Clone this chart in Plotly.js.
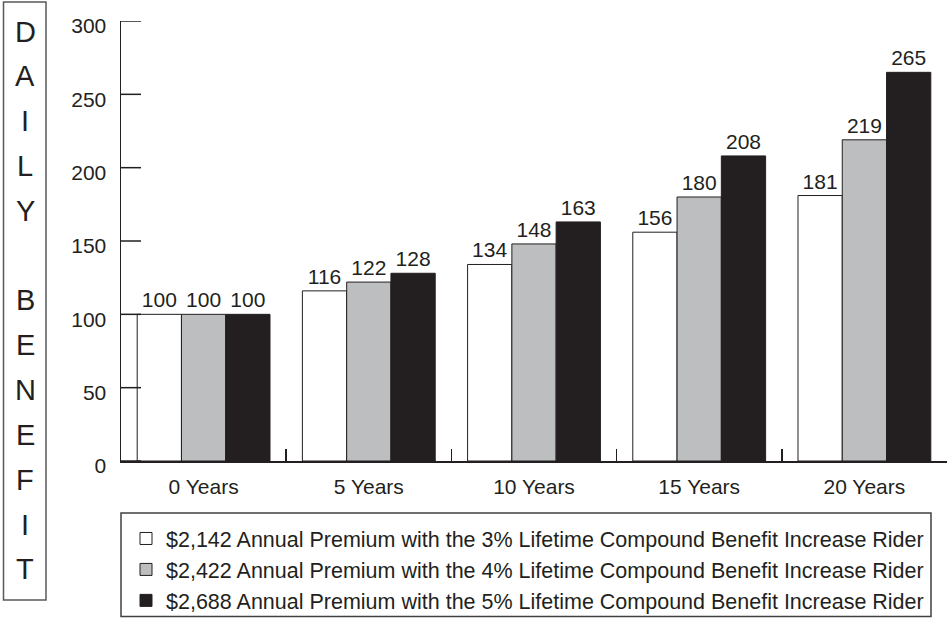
<!DOCTYPE html>
<html>
<head>
<meta charset="utf-8">
<script src="https://cdn.plot.ly/plotly-3.0.1.min.js"></script>
<style>html,body{margin:0;padding:0;background:#fff;}#chart{width:951px;height:626px;}</style>
</head>
<body>
<div id="chart"></div>
<script>
var categories = ['0 Years', '5 Years', '10 Years', '15 Years', '20 Years'];
var rider3 = [100, 116, 134, 156, 181];
var rider4 = [100, 122, 148, 180, 219];
var rider5 = [100, 128, 163, 208, 265];
var seriesNames = [
  '$2,142 Annual Premium with the 3% Lifetime Compound Benefit Increase Rider',
  '$2,422 Annual Premium with the 4% Lifetime Compound Benefit Increase Rider',
  '$2,688 Annual Premium with the 5% Lifetime Compound Benefit Increase Rider'
];
var yTicks = [0, 50, 100, 150, 200, 250, 300];
var sideLetters = ['D', 'A', 'I', 'L', 'Y', '', 'B', 'E', 'N', 'E', 'F', 'I', 'T'];

var FONT = '"Liberation Sans", Arial, Helvetica, sans-serif';
var INK = '#231f20';
var colors = ['#ffffff', '#bcbec0', '#231f20'];
var seriesVals = [rider3, rider4, rider5];

// plot area geometry (px)
var L = 121, R = 4, T = 21, B = 165, W = 951, H = 626;
var PW = W - L - R, PH = H - T - B;
function px2x(px) { return (px - L) / PW; }
function py2y(py) { return (H - B - py) / PH; }

var traces = seriesVals.map(function (vals, i) {
  return {
    type: 'bar',
    x: categories,
    y: vals,
    name: seriesNames[i],
    marker: { color: colors[i], line: { color: INK, width: 1 } },
    text: vals.map(String),
    textposition: 'outside',
    textfont: { family: FONT, size: 21, color: INK },
    cliponaxis: false,
    hoverinfo: 'skip'
  };
});

var annotations = sideLetters.map(function (ch, i) {
  return {
    xref: 'paper', yref: 'paper',
    x: px2x(25), y: py2y(31.7 + i * 44.8),
    xanchor: 'center', yanchor: 'middle',
    text: ch, showarrow: false,
    font: { family: FONT, size: 29, color: INK }
  };
});

var shapes = [
  { type: 'rect', xref: 'paper', yref: 'paper',
    x0: px2x(3.5), x1: px2x(46), y0: py2y(2), y1: py2y(600),
    line: { color: '#58595b', width: 1.5 }, fillcolor: 'rgba(0,0,0,0)' },
  { type: 'rect', xref: 'paper', yref: 'paper',
    x0: px2x(121), x1: px2x(931), y0: py2y(513), y1: py2y(616.5),
    line: { color: '#414042', width: 1.5 }, fillcolor: 'rgba(0,0,0,0)' }
];
// inward-pointing y-axis ticks, placed in data units on the y axis
yTicks.forEach(function (v) {
  shapes.push({ type: 'line', xref: 'paper', yref: 'y',
    x0: 0, x1: 20 / PW, y0: v, y1: v, layer: 'above',
    line: { color: INK, width: 1.5 } });
});

var layout = {
  width: W, height: H,
  margin: { l: L, r: R, t: T, b: B, pad: 0, autoexpand: false },
  paper_bgcolor: '#ffffff', plot_bgcolor: '#ffffff',
  barmode: 'group', bargap: 0.196, bargroupgap: 0,
  showlegend: true,
  legend: {
    x: px2x(126), y: py2y(518), xanchor: 'left', yanchor: 'top',
    font: { family: FONT, size: 21.5, color: INK },
    bgcolor: 'rgba(0,0,0,0)', borderwidth: 0,
    itemwidth: 30, tracegroupgap: 0, traceorder: 'normal'
  },
  font: { family: FONT, size: 21, color: INK },
  xaxis: {
    type: 'category',
    showline: true, linecolor: INK, linewidth: 1.5,
    ticks: 'inside', tickson: 'boundaries', ticklen: 12, tickwidth: 1.5, tickcolor: INK,
    showgrid: false, zeroline: false,
    tickfont: { family: FONT, size: 21, color: INK },
    ticklabelstandoff: 6,
    fixedrange: true,
    layer: 'above traces'
  },
  yaxis: {
    range: [0, 300],
    tickvals: yTicks,
    ticktext: yTicks.map(String),
    showline: true, linecolor: INK, linewidth: 1.5,
    ticks: '',
    showgrid: false, zeroline: false,
    tickfont: { family: FONT, size: 21, color: INK },
    ticklabelstandoff: 9,
    ticklabelshift: 5,
    fixedrange: true,
    layer: 'above traces'
  },
  annotations: annotations,
  shapes: shapes
};

Plotly.newPlot('chart', traces, layout, { displayModeBar: false, staticPlot: true });
</script>
</body>
</html>
